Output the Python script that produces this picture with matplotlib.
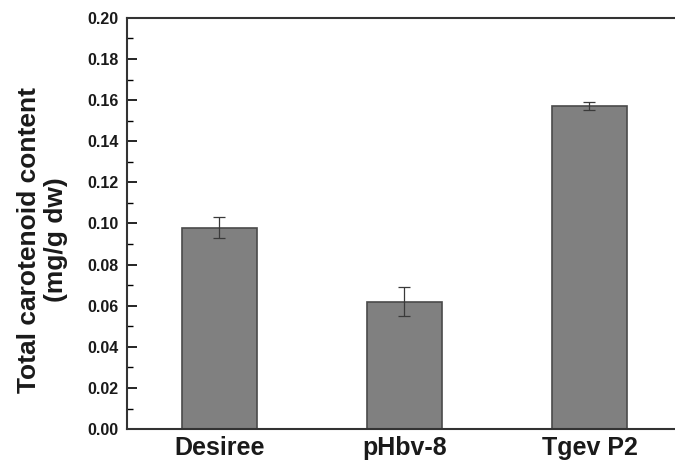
import matplotlib
matplotlib.use("Agg")
import matplotlib.pyplot as plt
from matplotlib.ticker import MultipleLocator

plt.rcParams['font.family'] = ['Liberation Sans', 'DejaVu Sans']
plt.rcParams['font.weight'] = 'bold'

categories = ["Desiree", "pHbv-8", "Tgev P2"]
values = [0.098, 0.062, 0.157]
errors = [0.005, 0.007, 0.002]

fig = plt.figure(figsize=(6.75, 4.71), dpi=100)
ax = fig.add_axes([0.188, 0.089, 0.812, 0.873])

x = [1, 2, 3]
ax.bar(x, values, width=0.405, color="#808080", edgecolor="#4a4a4a", linewidth=1.2, zorder=2)
ax.errorbar(x, values, yerr=errors, fmt="none", ecolor="#3a3a3a", elinewidth=0.9,
            capsize=4, capthick=0.9, zorder=3)

ax.set_xlim(0.5, 0.5 + 548 / 185)
ax.set_ylim(0, 0.20)
ax.set_xticks(x)
ax.set_xticklabels(categories, fontsize=18, fontweight="bold", color="#1a1a1a")
ax.yaxis.set_major_locator(MultipleLocator(0.02))
ax.yaxis.set_minor_locator(MultipleLocator(0.01))
ax.set_yticklabels([f"{v:.2f}" for v in ax.get_yticks()], fontsize=11.5, fontweight="bold",
                   color="#1a1a1a")
ax.tick_params(axis="y", which="major", direction="in", length=7, width=1.2, pad=6)
ax.tick_params(axis="y", which="minor", direction="in", length=4, width=1.0)
ax.tick_params(axis="x", which="major", direction="in", length=7, width=1.2, pad=5)
ax.tick_params(axis="x", which="minor", bottom=False)

for side in ["left", "bottom", "top"]:
    ax.spines[side].set_linewidth(1.5)
    ax.spines[side].set_color("#333333")
ax.spines["right"].set_visible(False)

ax.set_ylabel("Total carotenoid content\n(mg/g dw)", fontsize=19, fontweight="bold",
              linespacing=1.15, color="#1a1a1a")
ax.yaxis.set_label_coords(-0.108, 0.46)

fig.savefig("out.png", dpi=100)
